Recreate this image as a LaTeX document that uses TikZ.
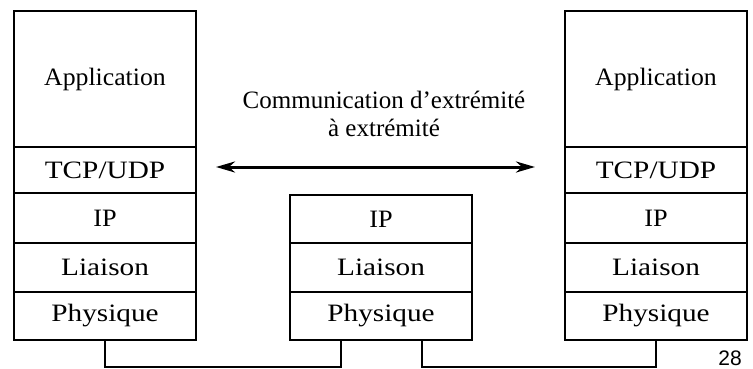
\documentclass[tikz,border=0pt]{standalone}
\usepackage{fontspec}
\setmainfont{Liberation Serif}
\newfontfamily\numfont{Liberation Sans}
\usetikzlibrary{arrows.meta}
\newcommand{\wide}[1]{\scalebox{1.17}[1]{#1}}
\begin{document}
\begin{tikzpicture}[x=1pt,y=-1pt,
  layer/.style={draw=black, line width=2pt, inner sep=0pt, outer sep=0pt,
    minimum width=182pt, font=\fontsize{25}{29}\selectfont},
  wire/.style={draw=black, line width=2.5pt},
  bidir/.style={draw=black, line width=3pt,
    {Stealth[length=19pt,width=11pt,inset=6pt]}-{Stealth[length=19pt,width=11pt,inset=6pt]}}]
\useasboundingbox (0,0) rectangle (753,369);
% left stack
\node[layer, minimum height=136pt] (lapp) at (105,79) {\scalebox{1.03}[1]{Application}};
\node[layer, minimum height=46pt] (ltcp) at (105,170) {\wide{TCP/UDP}};
\node[layer, minimum height=50pt] (lip) at (105,218) {\scalebox{1.05}[1]{IP}};
\node[layer, minimum height=49pt] (lli) at (105,267.5) {\wide{Liaison}};
\node[layer, minimum height=48pt] (lph) at (105,316) {\wide{Physique}};
% middle stack
\node[layer, minimum height=48pt] (mip) at (381,219) {\scalebox{1.05}[1]{IP}};
\node[layer, minimum height=49pt] (mli) at (381,267.5) {\wide{Liaison}};
\node[layer, minimum height=48pt] (mph) at (381,316) {\wide{Physique}};
% right stack
\node[layer, minimum height=136pt] (rapp) at (656,79) {\scalebox{1.03}[1]{Application}};
\node[layer, minimum height=46pt] (rtcp) at (656,170) {\wide{TCP/UDP}};
\node[layer, minimum height=50pt] (rip) at (656,218) {\scalebox{1.05}[1]{IP}};
\node[layer, minimum height=49pt] (rli) at (656,267.5) {\wide{Liaison}};
\node[layer, minimum height=48pt] (rph) at (656,316) {\wide{Physique}};
% caption
\node[align=center, font=\fontsize{25}{28}\selectfont] (cap) at (384,114)
  {Communication d’extrémité\\à extrémité};
\coordinate (aL) at (216,167);
\coordinate (aR) at (535,167);
\draw[bidir] (aL) -- (aR);
% wires
\coordinate (bot) at (0,367);
\coordinate (m1) at (341,340);
\coordinate (m2) at (422,340);
\draw[wire] (lph.south) -- (lph.south |- bot) -| (m1);
\draw[wire] (m2) -- (m2 |- bot) -| (rph.south);
\node[font=\numfont\fontsize{21}{21}\selectfont, inner sep=0pt] (pg) at (730,358) {28};
\end{tikzpicture}
\end{document}
